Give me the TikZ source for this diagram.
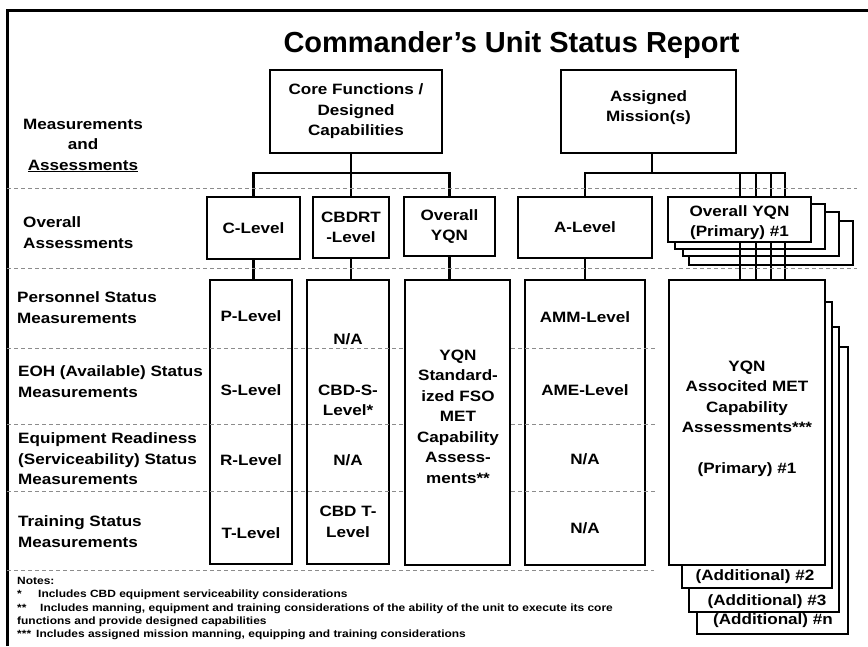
\documentclass[tikz,border=0pt]{standalone}
\usepackage{fontspec}
\setmainfont{Liberation Sans}[FakeStretch=1.14]
\newfontfamily\titlefamily{Liberation Sans}
\newcommand{\txtmain}{\fontsize{15}{20.5}\selectfont\bfseries}
\newcommand{\txtnote}{\fontsize{10.5}{13.25}\selectfont\bfseries}
\newcommand{\txttitle}{\titlefamily\fontsize{29}{34}\selectfont\bfseries}

\begin{document}
\begin{tikzpicture}[
  x=1pt,y=-1pt,
  line cap=butt,line join=miter,
  font=\txtmain,
  box/.style={draw=black,line width=2.3pt,inner sep=0pt,align=center},
  stackbox/.style={box,fill=white},
  link/.style={line width=2.3pt,draw=black,line cap=rect},
  rowline/.style={draw=black!45,line width=.9pt,dash pattern=on 4pt off 3pt},
  rowlabel/.style={anchor=west,align=left,inner sep=0pt},
  cell/.style={align=center,inner sep=0pt}
]
\useasboundingbox (0,0) rectangle (868,646);
\draw[line width=3pt] (7,646) -- (7,10) -- (868,10);

\node[anchor=base,font=\txttitle] (title) at (511.5,52) {Commander’s Unit Status Report};

% header boxes
\node[box,minimum width=172pt,minimum height=83pt] (core) at (356,111.5)
  {Core Functions /\\Designed\\Capabilities};
\node[box,minimum width=175pt,minimum height=83pt] (mission) at (648.5,111.5)
  {\raisebox{4pt}[\height][\depth]{\begin{tabular}{@{}c@{}}Assigned\\Mission(s)\end{tabular}}};

% overall assessments
\node[box,minimum width=93pt,minimum height=62pt] (clev) at (253.5,228) {C-Level};
\node[box,minimum width=76pt,minimum height=61pt] (cbdrt) at (351,227.5) {CBDRT\\-Level};
\node[box,minimum width=91pt,minimum height=59pt] (ovyqn) at (449.5,226.5) {Overall\\YQN};
\node[box,minimum width=134pt,minimum height=61pt] (alev) at (585,227.5) {A-Level};

% measurement columns
\node[box,minimum width=82pt,minimum height=284pt] (colP) at (251,422) {};
\node[box,minimum width=82pt,minimum height=284pt] (colCBD) at (348,422) {};
\node[box,minimum width=105pt,minimum height=285pt] (colYQN) at (457.5,422.5) {};
\node[box,minimum width=120pt,minimum height=285pt] (colA) at (585,422.5) {};

% mission MET stack, back to front
\node[stackbox,minimum width=151pt,minimum height=287pt] (met4) at (772.5,490.5) {};
\node[stackbox,minimum width=150pt,minimum height=285pt] (met3) at (764,469.5) {};
\node[stackbox,minimum width=150pt,minimum height=286pt] (met2) at (757,445) {};
\node[stackbox,minimum width=156pt,minimum height=285pt] (met1) at (747,422.5) {};
\node[cell] (met2txt) at (755,577) {(Additional) \#2};
\node[cell] (met3txt) at (767,602) {(Additional) \#3};
\node[cell] (met4txt) at (773,621) {(Additional) \#n};

% overall YQN stack, back to front
\node[stackbox,minimum width=164pt,minimum height=44pt] (ov4) at (771,243) {};
\node[stackbox,minimum width=156pt,minimum height=44pt] (ov3) at (761,234) {};
\node[stackbox,minimum width=150pt,minimum height=45pt] (ov2) at (750,226.5) {};
\coordinate (abar) at (652,173);
\coordinate (abarR) at (785,173);
\foreach \xx in {740,756,771,785}
  \draw[link] (\xx,0 |- abar) -- (\xx,0 |- met1.north);
\node[stackbox,minimum width=143pt,minimum height=45pt] (ov1) at (739.5,219.5)
  {\raisebox{-3pt}[\height][\depth]{\begin{tabular}{@{}c@{}}Overall YQN\\(Primary) \#1\end{tabular}}};

% tree connectors
\coordinate (cbar) at (351,173);
\draw[link] (cbar) -- (cbar |- core.south);
\draw[link] (clev.north) |- (cbar) -| (ovyqn.north);
\draw[link] (cbdrt.north) -- (cbar);
\draw[link] (abar) -- (abar |- mission.south);
\draw[link] (alev.north) |- (abarR);
\draw[link] (clev.south) -- (clev.south |- colP.north);
\draw[link] (cbdrt.south) -- (cbdrt.south |- colCBD.north);
\draw[link] (ovyqn.south) -- (ovyqn.south |- colYQN.north);
\draw[link] (alev.south) -- (colA.north);

% row separators
\foreach \yy in {188,268}
  \draw[rowline] (7,\yy) -- (857,\yy);
\foreach \yy in {348,424,491}{
  \draw[rowline] (7,\yy) -- (colYQN.west |- 0,\yy);
  \draw[rowline] (colYQN.east |- 0,\yy) -- (656,\yy);
}
\draw[rowline] (7,570) -- (654,570);

% column texts
\node[cell] (pLev) at (251,316) {P-Level};
\node[cell] (sLev) at (251,390) {S-Level};
\node[cell] (rLev) at (251,460) {R-Level};
\node[cell] (tLev) at (251,533) {T-Level};
\node[cell] (cbdP) at (348,339) {N/A};
\node[cell] (cbdS) at (348,400.5) {CBD-S-\\Level*};
\node[cell] (cbdR) at (348,460) {N/A};
\node[cell] (cbdT) at (348,522) {CBD T-\\Level};
\node[cell] (yqnStd) at (458,416.5)
  {YQN\\Standard-\\ized FSO\\MET\\Capability\\Assess-\\ments**};
\node[cell] (amm) at (585,317) {AMM-Level};
\node[cell] (ame) at (585,390) {AME-Level};
\node[cell] (aR) at (585,459) {N/A};
\node[cell] (aT) at (585,528) {N/A};
\node[cell] (metTxt) at (747,419)
  {YQN\\Associted MET\\Capability\\Assessments***\\[20.5pt](Primary) \#1};

% row labels
\node[cell] (lblMA) at (83,145.5) {Measurements\\and\\\underline{Assessments}};
\node[rowlabel] (lblOA) at (23,232.5) {Overall\\Assessments};
\node[rowlabel] (lblPers) at (17,307.5) {Personnel Status\\Measurements};
\node[rowlabel] (lblEoh) at (18,381.5) {EOH (Available) Status\\Measurements};
\node[rowlabel] (lblEquip) at (18,459) {Equipment Readiness\\(Serviceability) Status\\Measurements};
\node[rowlabel] (lblTrain) at (18,531.5) {Training Status\\Measurements};

% notes
\node[rowlabel,font=\txtnote] (notes) at (17,608.5) {Notes:\\
  \makebox[21pt][l]{*}Includes CBD equipment serviceability considerations\\
  \makebox[23pt][l]{**}Includes manning, equipment and training considerations of the ability of the unit to execute its core\\
  functions and provide designed capabilities\\
  \makebox[19pt][l]{***}Includes assigned mission manning, equipping and training considerations};
\end{tikzpicture}
\end{document}
